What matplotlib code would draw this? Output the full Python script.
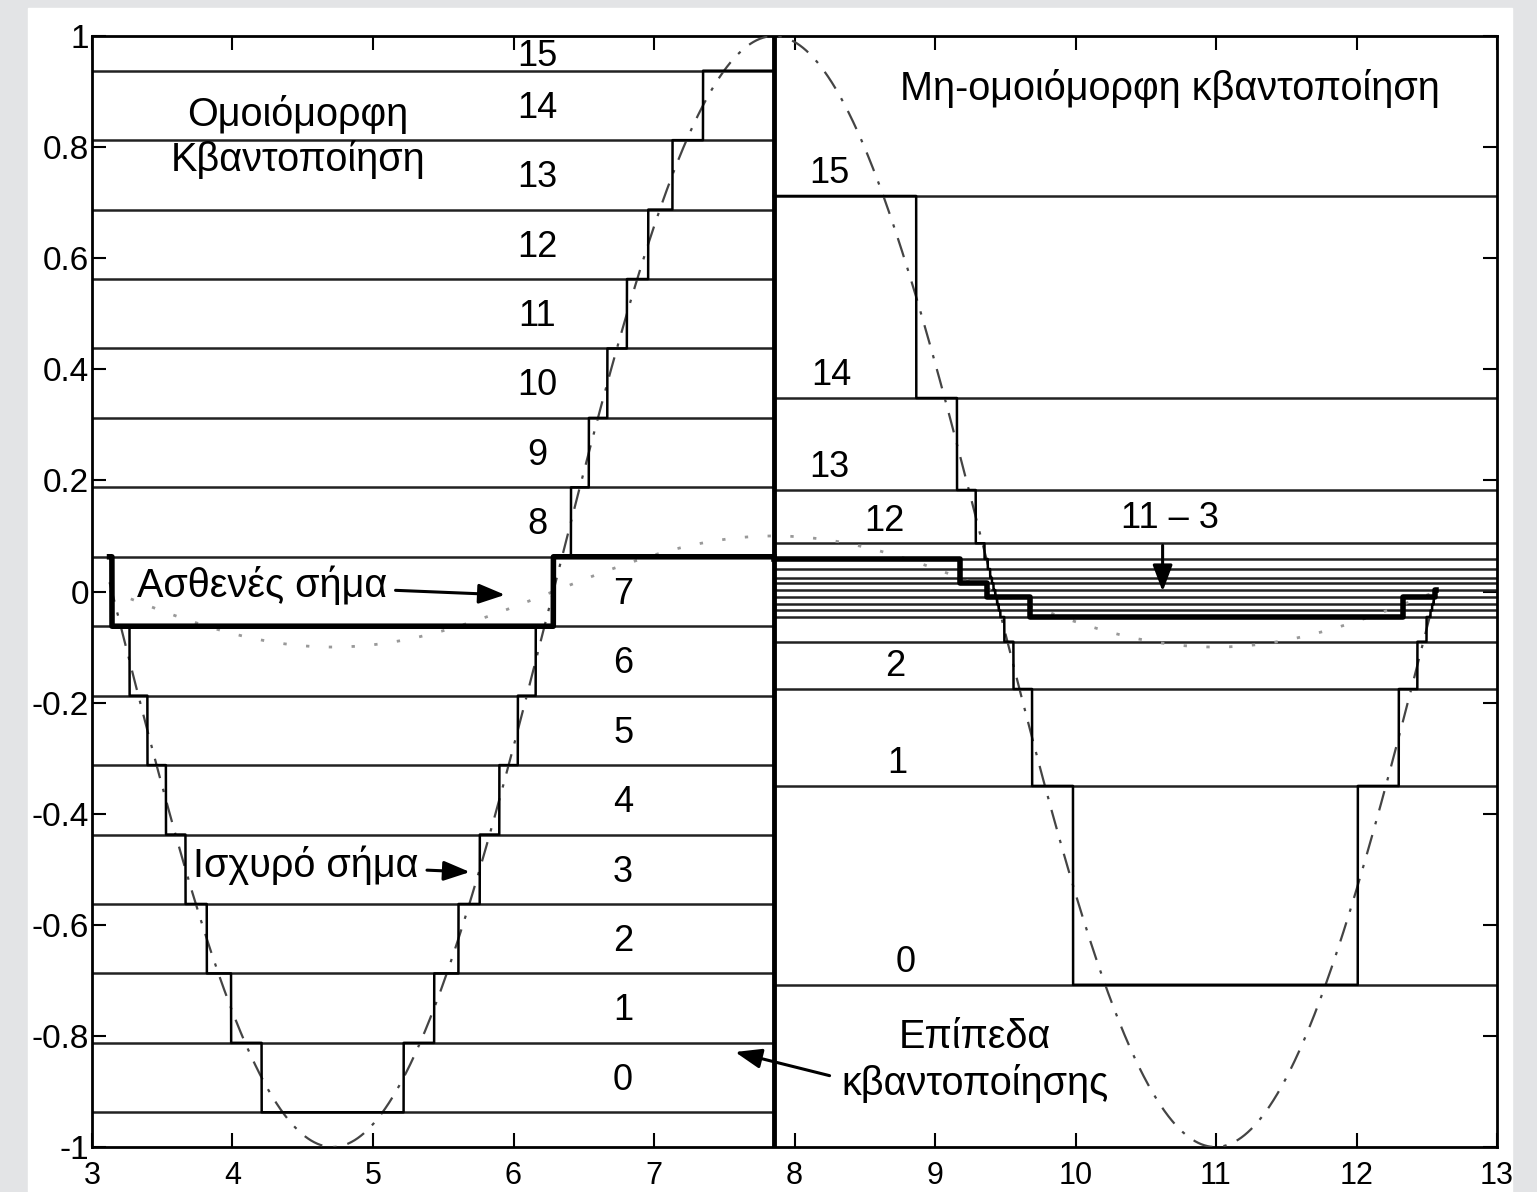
import numpy as np
import matplotlib
matplotlib.use('Agg')
import matplotlib.pyplot as plt
from matplotlib.patches import Rectangle

plt.rcParams['font.family'] = ['Liberation Sans', 'DejaVu Sans']

# --- δεδομένα ---
# ομοιόμορφη κβαντοποίηση: 16 στάθμες
uniform_levels = [-0.9375, -0.8125, -0.6875, -0.5625, -0.4375, -0.3125, -0.1875, -0.0625,
                  0.0625, 0.1875, 0.3125, 0.4375, 0.5625, 0.6875, 0.8125, 0.9375]
uniform_labels = ['0', '1', '2', '3', '4', '5', '6', '7',
                  '8', '9', '10', '11', '12', '13', '14', '15']

# μη-ομοιόμορφη κβαντοποίηση (στάθμες όπως διαβάζονται στην εικόνα)
nonuniform_levels = [-0.708, -0.350, -0.1755, -0.0904, -0.0459, -0.0342, -0.0230, -0.0104,
                     0.0027, 0.0148, 0.0248, 0.0405, 0.0585, 0.0868, 0.1827, 0.3483, 0.712]
nonuniform_labels = {'15': 0.712, '14': 0.3483, '13': 0.1827, '12': 0.0868,
                     '2': -0.1755, '1': -0.350, '0': -0.708}

# σήματα
strong_amp = 1.0
weak_amp = 0.1
x_start = 3.125
x_split = 7.854   # 2.5*pi
x_end = 12.566    # 4*pi

# ασθενές σήμα, μη-ομοιόμορφη πλευρά (σκαλοπάτια από την εικόνα)
weak_right_x = [7.854, 9.178, 9.368, 9.676, 12.33, 12.56, 12.566]
weak_right_q = [0.0585, 0.0148, -0.0104, -0.0459, -0.0104, 0.0027]

xticks = [3, 4, 5, 6, 7, 8, 9, 10, 11, 12, 13]
yticks = [-1, -0.8, -0.6, -0.4, -0.2, 0, 0.2, 0.4, 0.6, 0.8, 1]
ytick_labels = ['-1', '-0.8', '-0.6', '-0.4', '-0.2', '0', '0.2', '0.4', '0.6', '0.8', '1']


def quantize(v, levels):
    lv = np.array(levels)
    idx = np.abs(v[:, None] - lv[None, :]).argmin(axis=1)
    return lv[idx]


fig = plt.figure(figsize=(15.37, 11.92), dpi=100)
fig.patch.set_facecolor('#e3e4e6')
fig.add_artist(Rectangle((28 / 1537, 0), (1512 - 28) / 1537, 1 - 8 / 1192,
                         transform=fig.transFigure, color='white', zorder=-10))
ax = fig.add_axes([92 / 1537, 1 - 1147 / 1192, (1497 - 92) / 1537, (1147 - 36) / 1192])
ax.set_zorder(5)

# οριζόντιες στάθμες
for lv in uniform_levels:
    ax.plot([3, x_split], [lv, lv], color='#222222', lw=1.8, zorder=2)
for lv in nonuniform_levels:
    ax.plot([x_split, 13], [lv, lv], color='#222222', lw=1.8, zorder=2)

# αναλογικά σήματα
xs = np.linspace(x_start, x_end, 3000)
ax.plot(xs, strong_amp * np.sin(xs), color='#444444', lw=1.6,
        linestyle=(0, (9, 5, 1.5, 5)), zorder=3)
ax.plot(xs, weak_amp * np.sin(xs), color='#999999', lw=2,
        linestyle=(0, (1.2, 7)), zorder=3)

# κβαντισμένο ισχυρό σήμα
xl = np.linspace(x_start, x_split, 20000)
ax.plot(xl, quantize(strong_amp * np.sin(xl), uniform_levels), color='black', lw=1.8, zorder=4)
xr = np.linspace(x_split, x_end, 20000)
ax.plot(xr, quantize(strong_amp * np.sin(xr), nonuniform_levels), color='black', lw=1.8, zorder=4)

# κβαντισμένο ασθενές σήμα
ax.plot(xl, quantize(weak_amp * np.sin(xl), uniform_levels), color='black', lw=4, zorder=5)
ax.step(weak_right_x, weak_right_q + [weak_right_q[-1]], where='post', color='black', lw=4, zorder=5)

# διαχωριστική γραμμή
ax.axvline(x_split, color='black', lw=3.5, zorder=6)

# αριθμοί σταθμών
top_edge = 1.0
for i, (lv, lab) in enumerate(zip(uniform_levels, uniform_labels)):
    above = uniform_levels[i + 1] if i + 1 < len(uniform_levels) else top_edge
    xpos = 6.17 if i >= 8 else 6.78
    ax.text(xpos, (lv + above) / 2 - 0.005, lab, ha='center', va='center', fontsize=26, zorder=7)

right_label_x = {'15': 8.245, '14': 8.26, '13': 8.25, '12': 8.64, '2': 8.715, '1': 8.73, '0': 8.79}
for lab, lv in nonuniform_labels.items():
    ax.text(right_label_x[lab], lv + 0.04, lab, ha='center', va='center', fontsize=26, zorder=7)

# κείμενα
fs = 28.5
ax.text(4.466, 0.858, 'Ομοιόμορφη', ha='center', va='center', fontsize=fs)
ax.text(4.466, 0.777, 'Κβαντοποίηση', ha='center', va='center', fontsize=fs)
ax.text(10.672, 0.906, 'Μη-ομοιόμορφη κβαντοποίηση', ha='center', va='center', fontsize=fs)
ax.text(9.285, -0.802, 'Επίπεδα', ha='center', va='center', fontsize=fs)
ax.text(9.285, -0.885, 'κβαντοποίησης', ha='center', va='center', fontsize=fs)
ax.text(10.67, 0.132, '11 – 3', ha='center', va='center', fontsize=26)

arrow = dict(arrowstyle='-|>,head_length=0.8,head_width=0.3', color='black', lw=2.2,
             mutation_scale=20, shrinkA=4, shrinkB=0)
ax.annotate('Ασθενές σήμα', xy=(5.94, -0.006), xytext=(3.32, 0.012),
            ha='left', va='center', fontsize=fs, arrowprops=arrow, zorder=8)
ax.annotate('Ισχυρό σήμα', xy=(5.69, -0.505), xytext=(3.72, -0.492),
            ha='left', va='center', fontsize=fs, arrowprops=arrow, zorder=8)
ax.annotate('', xy=(7.577, -0.829), xytext=(8.288, -0.874), arrowprops=arrow, zorder=8)
ax.annotate('', xy=(10.62, 0.0), xytext=(10.62, 0.093), arrowprops=arrow, zorder=8)

ax.set_xlim(3, 13)
ax.set_ylim(-1, 1)
ax.set_xticks(xticks)
ax.set_xticklabels([str(t) for t in xticks])
ax.set_yticks(yticks)
ax.set_yticklabels(ytick_labels)
ax.tick_params(direction='in', length=10, width=1.5, top=True, right=True,
               labelsize=24)
ax.tick_params(axis='x', pad=10, labelsize=22)
ax.tick_params(axis='y', pad=2)
for s in ax.spines.values():
    s.set_linewidth(2)

fig.savefig('out.png', dpi=100)
